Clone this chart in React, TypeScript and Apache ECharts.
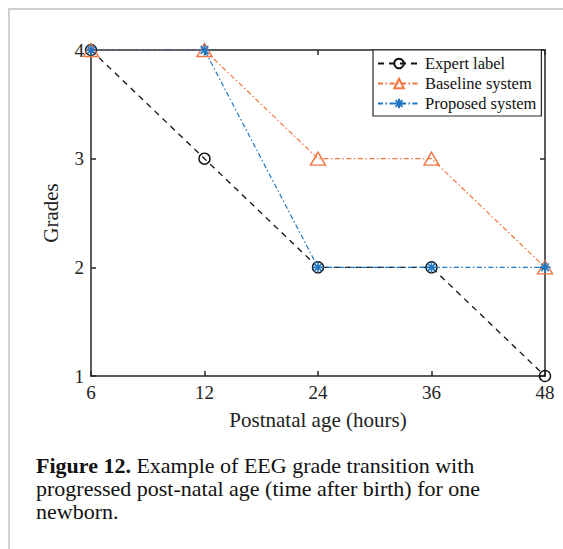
import React, { useEffect, useRef } from "react";
import * as echarts from "echarts";

const ageLabels = ["6", "12", "24", "36", "48"];
const expertLabel = [4, 3, 2, 2, 1];
const baselineSystem = [4, 4, 3, 3, 2];
const proposedSystem = [4, 4, 2, 2, 2];
const seriesNames = ["Expert label", "Baseline system", "Proposed system"];
const captionBold = "Figure 12.";
const captionLines = [
  " Example of EEG grade transition with",
  "progressed post-natal age (time after birth) for one",
  "newborn.",
];

const SERIF = "'Liberation Serif', 'Times New Roman', serif";
const AXIS = "#262626";
const ORANGE = "#f2743e";
const BLUE = "#1f77c4";
const ASTERISK = "path://M0,-10L0,10M-10,0L10,0M-7,-7L7,7M-7,7L7,-7";

export default function App() {
  const ref = useRef<HTMLDivElement>(null);
  useEffect(() => {
    if (!ref.current) return;
    const chart = echarts.init(ref.current, null, { renderer: "svg" });
    const axisCommon = {
      axisLine: { show: true, lineStyle: { color: AXIS, width: 1.5 } },
      axisTick: { show: true, inside: true, length: 5, lineStyle: { color: AXIS, width: 1.5 } },
      splitLine: { show: false },
    };
    chart.setOption({
      animation: false,
      backgroundColor: "#ffffff",
      grid: { left: 91, top: 50, right: 18, bottom: 173, containLabel: false },
      legend: {
        orient: "vertical",
        left: 373,
        top: 50,
        padding: [5, 5, 4, 4],
        itemGap: 3,
        itemWidth: 42,
        itemHeight: 12,
        backgroundColor: "#ffffff",
        borderColor: AXIS,
        borderWidth: 1.2,
        borderRadius: 0,
        textStyle: { fontFamily: SERIF, fontSize: 16.5, color: "#111" },
        data: seriesNames,
      },
      xAxis: [
        {
          type: "category",
          data: ageLabels,
          boundaryGap: false,
          name: "Postnatal age (hours)",
          nameLocation: "middle",
          nameGap: 33,
          nameTextStyle: { fontFamily: SERIF, fontSize: 21, color: "#222" },
          axisLabel: { fontFamily: SERIF, fontSize: 19, color: "#222", margin: 7 },
          ...axisCommon,
        },
        {
          type: "category",
          data: ageLabels,
          boundaryGap: false,
          position: "top",
          axisLabel: { show: false },
          ...axisCommon,
        },
      ],
      yAxis: [
        {
          type: "value",
          min: 1,
          max: 4,
          interval: 1,
          name: "Grades",
          nameLocation: "middle",
          nameGap: 30,
          nameTextStyle: { fontFamily: SERIF, fontSize: 21, color: "#222" },
          axisLabel: { fontFamily: SERIF, fontSize: 19, color: "#222", margin: 7 },
          ...axisCommon,
        },
        {
          type: "value",
          min: 1,
          max: 4,
          interval: 1,
          position: "right",
          axisLabel: { show: false },
          ...axisCommon,
        },
      ],
      series: [
        {
          name: seriesNames[0],
          type: "line",
          data: expertLabel,
          symbol: "circle",
          symbolSize: 11,
          lineStyle: { color: "#111", width: 1.3, type: [6, 5] },
          itemStyle: { color: "rgba(255,255,255,0)", borderColor: "#111", borderWidth: 1.4 },
          z: 3,
        },
        {
          name: seriesNames[1],
          type: "line",
          data: baselineSystem,
          symbol: "triangle",
          symbolSize: [15, 13],
          lineStyle: { color: ORANGE, width: 1.2, type: [5, 2.5, 1.5, 2.5] },
          itemStyle: { color: "rgba(255,255,255,0)", borderColor: ORANGE, borderWidth: 1.4 },
          z: 4,
        },
        {
          name: seriesNames[2],
          type: "line",
          data: proposedSystem,
          symbol: ASTERISK,
          symbolSize: 11,
          lineStyle: { color: BLUE, width: 1.2, type: [5, 2.5, 1.5, 2.5] },
          itemStyle: { color: "rgba(255,255,255,0)", borderColor: BLUE, borderWidth: 1.6 },
          z: 5,
        },
      ],
      graphic: [
        { type: "line", shape: { x1: 9, y1: 8, x2: 9, y2: 549 }, style: { stroke: "#cfcfcf", lineWidth: 2 } },
        { type: "line", shape: { x1: 8, y1: 9, x2: 563, y2: 9 }, style: { stroke: "#cfcfcf", lineWidth: 2 } },
        {
          type: "text",
          left: 36,
          top: 454,
          style: {
            rich: {
              b: { fontFamily: SERIF, fontSize: 22, fontWeight: "bold", fill: "#111", lineHeight: 23 },
              n: { fontFamily: SERIF, fontSize: 22, fill: "#111", lineHeight: 23 },
            },
            text: `{b|${captionBold}}{n|${captionLines[0]}}\n{n|${captionLines[1]}}\n{n|${captionLines[2]}}`,
            lineHeight: 23,
            fill: "#111",
          },
        },
      ],
    });
    return () => chart.dispose();
  }, []);
  return (
    <div
      ref={ref}
      style={{ position: "fixed", left: 0, top: 0, width: 563, height: 549, background: "#fff" }}
    />
  );
}
